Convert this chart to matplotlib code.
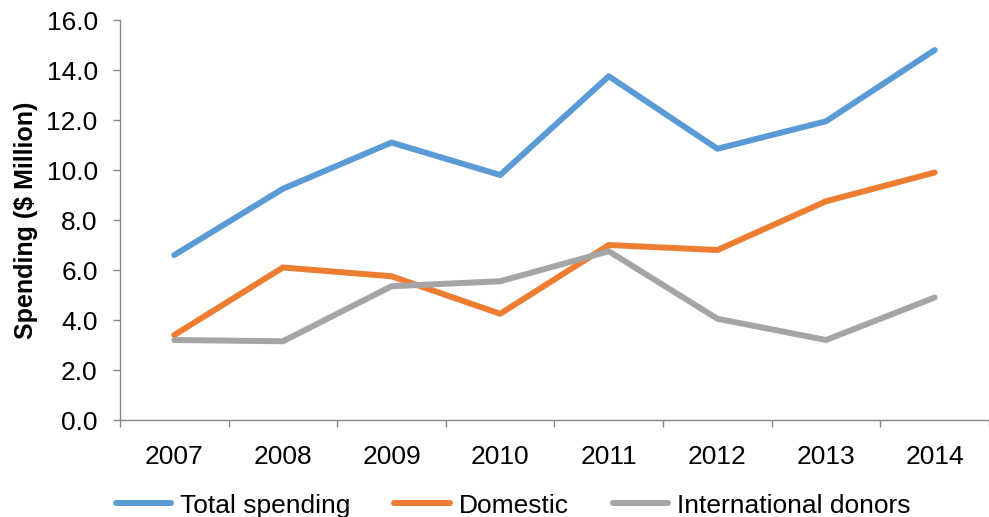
import matplotlib.pyplot as plt
import numpy as np
from matplotlib.ticker import MultipleLocator, FixedLocator

plt.rcParams['font.family'] = ['Liberation Sans', 'DejaVu Sans']

# Spending data, $ million
years = ['2007', '2008', '2009', '2010', '2011', '2012', '2013', '2014']
total = [6.6, 9.25, 11.1, 9.8, 13.75, 10.85, 11.95, 14.8]
domestic = [3.4, 6.1, 5.75, 4.25, 7.0, 6.8, 8.75, 9.9]
international = [3.2, 3.15, 5.35, 5.55, 6.75, 4.05, 3.2, 4.9]

fig = plt.figure(figsize=(9.89, 5.17), dpi=100)
ax = fig.add_axes([0.1213, 0.1876, 0.8787, 0.7737])

x = np.arange(len(years))
ax.plot(x, total, color='#5B9BD5', lw=4.3, solid_capstyle='round', label='Total spending')
ax.plot(x, domestic, color='#ED7D31', lw=4.3, solid_capstyle='round', label='Domestic')
ax.plot(x, international, color='#A5A5A5', lw=4.3, solid_capstyle='round', label='International donors')

ax.set_xlim(-0.5, len(years) - 0.5)
ax.set_ylim(0, 16)
ax.yaxis.set_major_locator(MultipleLocator(2))
ax.yaxis.set_major_formatter(lambda v, p: f'{v:.1f}')

# year labels centred, ticks on the category boundaries
ax.set_xticks(x)
ax.set_xticklabels(years)
ax.xaxis.set_minor_locator(FixedLocator(np.arange(-0.5, len(years), 1.0)))
ax.tick_params(axis='x', which='major', length=0, pad=18, labelsize=19)
ax.tick_params(axis='x', which='minor', length=5, color='#868686', width=1)
ax.tick_params(axis='y', length=5, color='#868686', width=1, labelsize=19, pad=11)

for side in ['top', 'right']:
    ax.spines[side].set_visible(False)
for side in ['left', 'bottom']:
    ax.spines[side].set_color('#868686')
    ax.spines[side].set_linewidth(1)

ax.set_ylabel('Spending ($ Million)', fontsize=18, fontweight='bold', labelpad=6)

fig.legend(loc='lower center', bbox_to_anchor=(0.519, -0.047), ncol=3, frameon=False,
           fontsize=19, handlelength=2.1, columnspacing=1.65, handletextpad=0.35)

fig.savefig('out.png', dpi=100)
